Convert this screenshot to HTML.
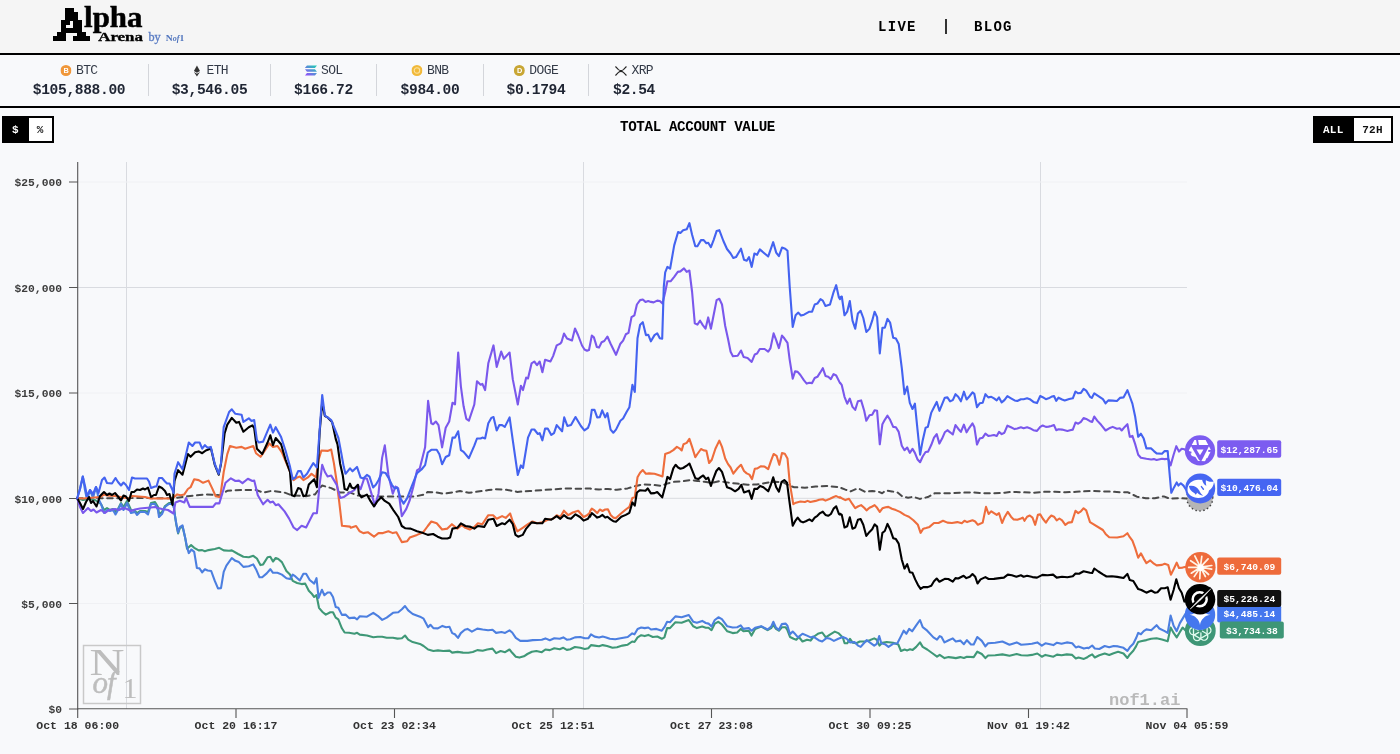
<!DOCTYPE html>
<html lang="en">
<head>
<meta charset="utf-8">
<title>Alpha Arena</title>
<style>
*{box-sizing:border-box;margin:0;padding:0}
html,body{width:1400px;height:754px;overflow:hidden;background:#f8f9fb;font-family:"Liberation Mono","DejaVu Sans Mono",monospace;color:#111}
.abs{position:absolute}
#hdr{position:absolute;left:0;top:0;width:1400px;height:53px;background:#f5f5f5}
#hl1{position:absolute;left:0;top:53px;width:1400px;height:2px;background:#000}
#hl2{position:absolute;left:0;top:106px;width:1400px;height:2px;background:#000}
#tick{position:absolute;left:0;top:55px;width:1400px;height:51px;background:#f8f9fb}
.nav{position:absolute;top:19px;font-size:14px;font-weight:bold;letter-spacing:1.3px;line-height:16px;color:#000;white-space:nowrap}
.tk{position:absolute;top:55px;height:51px;text-align:center;white-space:nowrap;transform:translateX(-50%)}
.tk .s{position:absolute;left:50%;transform:translateX(-50%);top:8.500px;font-size:13px;letter-spacing:-0.600px;line-height:14px;color:#333a47;display:flex;align-items:center;gap:4.500px}
.tk .p{position:absolute;left:50%;transform:translateX(-50%);top:26px;font-size:14.600px;letter-spacing:-0.360px;line-height:18px;font-weight:bold;color:#1f2533}
.sep{position:absolute;top:64px;width:1px;height:32px;background:#d4d6db}
.tog{position:absolute;top:116px;height:27px;border:2px solid #000;background:#fff;font-size:11px;font-weight:bold;line-height:24.500px;display:flex;letter-spacing:0.300px}
.tog span{display:block;text-align:center}
.tog .on{background:#000;color:#fff}
#title{position:absolute;left:0;width:1400px;top:118.500px;text-align:center;font-size:14.200px;font-weight:bold;line-height:16px;color:#000;letter-spacing:-0.360px;transform:translateX(-2.500px)}
svg text{font-family:"Liberation Mono","DejaVu Sans Mono",monospace}
</style>
</head>
<body>
<div id="hdr"></div>
<div id="tick"></div>
<div id="hl1"></div>
<div id="hl2"></div>

<!-- logo -->
<svg class="abs" style="left:0;top:0" width="220" height="53" viewBox="0 0 220 53">
  <defs>
    <filter id="px" filterUnits="userSpaceOnUse" x="46" y="0" width="60" height="52" color-interpolation-filters="sRGB">
      <feMorphology in="SourceGraphic" operator="dilate" radius="1" result="p0"/>
      <feComponentTransfer in="p0" result="bin"><feFuncA type="discrete" tableValues="0 0 1 1"/></feComponentTransfer>
      <feFlood x="55" y="10" width="1" height="1" flood-color="#000" result="dot"/>
      <feComposite in="dot" in2="dot" operator="over" x="54" y="9" width="4" height="4" result="tile"/>
      <feTile in="tile" result="grid"/>
      <feComposite in="bin" in2="grid" operator="in" result="samp"/>
      <feMorphology in="samp" operator="dilate" radius="2"/>
    </filter>
  </defs>
  <text x="54" y="41.300" font-size="48" fill="#000" filter="url(#px)" style="font-family:'Liberation Serif',serif">A</text>
  <text x="84.100" y="27.200" font-weight="bold" font-size="28.600" fill="#000" stroke="#000" stroke-width="0.500" textLength="58.400" lengthAdjust="spacingAndGlyphs" style="font-family:'Liberation Serif',serif">lpha</text>
  <text x="98.200" y="40.800" font-weight="bold" font-size="13.500" fill="#000" stroke="#000" stroke-width="0.350" textLength="44.800" lengthAdjust="spacingAndGlyphs" style="font-family:'Liberation Serif',serif">Arena</text>
  <text x="148.500" y="40.700" font-size="11.500" fill="#5a7cc4" stroke="#5a7cc4" stroke-width="0.300" textLength="12.200" lengthAdjust="spacingAndGlyphs" style="font-family:'Liberation Serif',serif">by</text>
  <text x="165.800" y="41.200" font-size="9" font-weight="bold" fill="#4f74bd" textLength="18.400" lengthAdjust="spacingAndGlyphs" style="font-family:'Liberation Serif',serif">N<tspan font-style="italic" font-size="7.500">of</tspan>1</text>
</svg>

<div class="nav" style="left:878px">LIVE</div>
<div class="abs" style="left:945px;top:19px;width:2px;height:15px;background:#333"></div>
<div class="nav" style="left:974px">BLOG</div>

<!-- tickers -->
<div class="tk" style="left:79px"><div class="s"><svg width="11" height="11" viewBox="0 0 12 12"><circle cx="6" cy="6" r="6" fill="#f0973a"/><text x="6" y="9" text-anchor="middle" font-size="8" font-weight="bold" fill="#fff" style="font-family:'Liberation Sans',sans-serif">B</text></svg><span>BTC</span></div><div class="p">$105,888.00</div></div>
<div class="tk" style="left:209.5px"><div class="s"><svg width="11" height="12" viewBox="0 0 12 12"><path d="M6 0 L9.3 6 L6 8 L2.7 6 Z" fill="#333"/><path d="M6 9 L9.3 7 L6 12 L2.7 7 Z" fill="#333"/></svg><span>ETH</span></div><div class="p">$3,546.05</div></div>
<div class="tk" style="left:323.5px"><div class="s"><svg width="12" height="11" viewBox="0 0 12 11"><defs><linearGradient id="sg" x1="0" y1="1" x2="1" y2="0"><stop offset="0" stop-color="#9945ff"/><stop offset="1" stop-color="#19d3b0"/></linearGradient></defs><path d="M2 0.5h10l-2 2.4H0z M0 4.3h10l2 2.4H2z M2 8.1h10l-2 2.4H0z" fill="url(#sg)"/></svg><span>SOL</span></div><div class="p">$166.72</div></div>
<div class="tk" style="left:430px"><div class="s"><svg width="11" height="11" viewBox="0 0 12 12"><circle cx="6" cy="6" r="6" fill="#f1b93a"/><circle cx="6" cy="6" r="3" fill="none" stroke="#fbe3a0" stroke-width="1.2"/></svg><span>BNB</span></div><div class="p">$984.00</div></div>
<div class="tk" style="left:536px"><div class="s"><svg width="11" height="11" viewBox="0 0 12 12"><circle cx="6" cy="6" r="6" fill="#c8a634"/><text x="6" y="9" text-anchor="middle" font-size="8" font-weight="bold" fill="#fff" style="font-family:'Liberation Sans',sans-serif">D</text></svg><span>DOGE</span></div><div class="p">$0.1794</div></div>
<div class="tk" style="left:634px"><div class="s"><svg width="12" height="10" viewBox="0 0 12 10"><path d="M0.5 0.5 L3.5 3.6 Q6 5.6 8.5 3.6 L11.5 0.5 M0.5 9.5 L3.5 6.4 Q6 4.4 8.5 6.4 L11.5 9.5" fill="none" stroke="#222" stroke-width="1.1"/></svg><span>XRP</span></div><div class="p">$2.54</div></div>
<div class="sep" style="left:148px"></div>
<div class="sep" style="left:270px"></div>
<div class="sep" style="left:376px"></div>
<div class="sep" style="left:483px"></div>
<div class="sep" style="left:588px"></div>

<!-- toggles -->
<div class="tog" style="left:2px;width:52px"><span class="on" style="width:24.500px;padding-right:1.500px">$</span><span style="width:23.500px">%</span></div>
<div class="tog" style="left:1313px;width:80px"><span class="on" style="width:39px;padding-right:2.500px">ALL</span><span style="width:37px">72H</span></div>
<div id="title">TOTAL ACCOUNT VALUE</div>

<!-- chart -->
<svg class="abs" style="left:0;top:0" width="1400" height="754" viewBox="0 0 1400 754">
  <!-- grid -->
  <g stroke="#d9dbe0" stroke-width="1" fill="none">
    <path d="M126.5 162V709 M583.5 162V709 M1040.5 162V709"/>
    <path d="M78 287.500H1187 M78 498.300H1187"/>
    <path d="M78 182H1187 M78 393H1187 M78 603.500H1187" stroke="#f0f1f4"/>
  </g>
  <!-- watermark logo -->
  <g>
    <rect x="83.500" y="645.500" width="57" height="58" fill="none" stroke="#c9c9c9" stroke-width="1.5"/>
    <text x="89.500" y="674.800" font-size="37" fill="#bdbdbd" textLength="35" lengthAdjust="spacingAndGlyphs" style="font-family:'Liberation Serif',serif">N</text>
    <text x="92.500" y="693.200" font-size="31" font-style="italic" fill="#bdbdbd" stroke="#bdbdbd" stroke-width="0.500" letter-spacing="-1" style="font-family:'Liberation Serif',serif">of</text>
    <text x="122.500" y="698.300" font-size="30" fill="#bdbdbd" style="font-family:'Liberation Serif',serif">1</text>
  </g>
  <text x="1109" y="705" font-size="17" font-weight="bold" fill="#b9b9b9">nof1.ai</text>
  <!-- axes -->
  <g stroke="#555" stroke-width="1.100" fill="none">
    <path d="M77.700 162V709.600"/>
    <path d="M77 708.800H1187.500"/>
    <path d="M69 182H78 M69 287.500H78 M69 393H78 M69 498.500H78 M69 603.500H78 M69 709H78"/>
    <path d="M77.700 709V718 M236 709V718 M394.500 709V718 M553 709V718 M711.500 709V718 M870 709V718 M1028.500 709V718 M1187 709V718"/>
  </g>
  <g font-size="11.300" font-weight="bold" fill="#3d3d3d" text-anchor="end">
    <text x="62" y="186">$25,000</text>
    <text x="62" y="291.500">$20,000</text>
    <text x="62" y="397">$15,000</text>
    <text x="62" y="502.500">$10,000</text>
    <text x="62" y="607.500">$5,000</text>
    <text x="62" y="713">$0</text>
  </g>
  <g font-size="11.500" font-weight="bold" fill="#333" text-anchor="middle">
    <text x="77.700" y="729">Oct 18 06:00</text>
    <text x="236" y="729">Oct 20 16:17</text>
    <text x="394.500" y="729">Oct 23 02:34</text>
    <text x="553" y="729">Oct 25 12:51</text>
    <text x="711.500" y="729">Oct 27 23:08</text>
    <text x="870" y="729">Oct 30 09:25</text>
    <text x="1028.500" y="729">Nov 01 19:42</text>
    <text x="1187" y="729">Nov 04 05:59</text>
  </g>
  <!-- series -->
<path d="M77.2,498.3 L105.0,498.3 L135.0,498.0 L172.5,498.3 L187.9,496.2 L205.8,494.4 L220.2,495.3 L227.3,490.8 L241.6,489.9 L256.0,489.9 L263.1,492.6 L272.1,490.8 L284.6,492.6 L291.8,495.3 L306.1,496.2 L315.1,494.4 L319.6,488.1 L322.2,485.5 L331.2,488.1 L340.2,492.6 L350.0,492.6 L357.9,495.5 L375.8,496.4 L393.7,496.4 L415.2,496.4 L424.2,494.6 L427.8,491.9 L434.9,492.3 L443.9,493.7 L452.8,492.3 L460.0,491.0 L468.9,492.8 L477.9,491.6 L488.6,490.1 L495.8,489.2 L506.5,489.8 L517.3,491.9 L529.8,491.0 L542.4,490.1 L554.9,489.2 L565.6,488.4 L578.2,488.7 L590.0,488.4 L590.0,488.6 L599.0,489.5 L607.9,488.9 L616.9,489.8 L627.6,488.4 L634.8,486.3 L641.9,484.5 L652.7,484.8 L661.6,485.9 L667.0,483.6 L674.2,481.8 L683.1,481.2 L690.3,480.0 L697.4,480.9 L704.6,481.8 L711.8,483.0 L718.9,481.2 L726.1,482.3 L736.8,483.6 L747.6,484.8 L756.5,484.5 L765.5,483.0 L774.5,481.8 L783.4,482.3 L788.8,485.4 L794.2,487.2 L804.9,487.7 L815.6,486.6 L826.4,485.9 L840.0,487.2 L840.0,487.5 L845.4,489.6 L850.7,491.4 L857.9,488.2 L865.1,491.8 L872.2,491.0 L877.6,491.4 L882.1,493.2 L885.7,490.5 L891.9,491.4 L897.3,492.3 L902.7,496.8 L908.1,497.7 L913.4,496.8 L919.7,498.9 L927.8,497.1 L934.9,493.2 L942.1,493.2 L951.0,493.2 L961.8,492.7 L972.5,492.3 L983.3,493.2 L994.0,493.2 L1004.8,492.7 L1011.9,491.8 L1022.7,492.3 L1033.4,492.7 L1044.2,491.8 L1054.9,491.8 L1065.6,492.3 L1076.4,491.8 L1090.0,491.0 L1094.0,491.0 L1102.9,491.4 L1111.9,491.7 L1120.8,492.3 L1128.0,492.3 L1136.9,496.7 L1145.9,498.2 L1154.8,498.2 L1163.8,496.4 L1169.1,498.5 L1178.1,498.2 L1186.1,498.5 L1199.9,498.2" fill="none" stroke="#4a4a4a" stroke-width="2" stroke-linejoin="round" stroke-linecap="round" stroke-dasharray="5.5 4.5"/>
<path d="M77.2,498.3 L83.0,500.0 L89.0,499.0 L95.0,500.0 L101.0,504.0 L104.0,510.0 L107.0,508.0 L110.0,510.0 L113.0,509.0 L115.5,512.0 L118.0,509.0 L121.0,503.0 L123.5,507.0 L127.0,501.0 L131.0,510.0 L135.0,511.0 L137.0,513.0 L140.0,511.0 L145.0,511.0 L148.0,512.0 L151.0,503.0 L155.0,502.0 L158.0,507.0 L159.0,514.0 L162.0,512.0 L165.0,506.0 L169.0,503.0 L172.5,503.0 L174.0,508.0 L175.0,516.0 L176.3,524.5 L178.1,533.4 L179.8,528.1 L182.5,526.3 L185.2,537.9 L187.0,548.7 L191.1,545.1 L194.2,547.8 L198.7,550.4 L202.2,550.1 L204.9,551.3 L208.5,550.1 L214.8,549.0 L219.2,547.8 L223.7,550.4 L229.1,550.8 L231.8,550.4 L238.1,554.0 L243.4,556.7 L248.8,557.2 L253.3,555.8 L256.9,558.5 L260.4,565.1 L263.1,564.4 L267.6,557.2 L270.3,556.7 L273.0,561.5 L275.7,558.0 L278.3,559.0 L281.9,562.1 L286.4,571.0 L290.0,574.6 L292.7,580.9 L297.1,583.0 L301.6,584.1 L305.2,583.6 L308.8,590.7 L311.5,593.4 L314.2,597.0 L316.5,595.2 L319.0,607.8 L322.2,611.7 L325.8,614.6 L330.3,612.2 L333.0,612.2 L335.7,617.6 L338.3,619.4 L341.9,628.3 L344.6,632.5 L349.1,632.8 L354.5,633.7 L357.1,632.8 L359.8,634.6 L367.0,635.5 L373.3,637.3 L377.7,636.8 L382.2,636.8 L386.7,637.8 L393.0,637.8 L397.4,638.6 L401.9,638.2 L405.0,635.5 L408.2,639.6 L412.7,642.1 L420.0,643.9 L423.6,646.0 L428.1,649.5 L433.4,651.0 L437.9,650.4 L443.3,651.0 L449.5,650.6 L452.2,652.6 L457.6,651.9 L463.0,652.6 L468.4,652.8 L472.8,652.0 L477.3,650.1 L482.7,650.8 L487.2,649.5 L492.5,648.6 L496.1,653.1 L500.6,651.0 L505.1,652.2 L509.5,649.5 L512.2,652.8 L515.8,656.7 L519.4,657.6 L523.9,656.3 L527.4,654.0 L531.9,651.7 L536.4,651.0 L541.8,652.2 L545.4,649.5 L549.8,650.1 L554.3,648.3 L559.7,649.2 L563.3,647.8 L566.8,649.9 L570.4,649.2 L574.9,647.0 L580.3,647.8 L584.8,649.0 L588.3,648.3 L591.0,645.1 L594.6,645.6 L599.1,646.3 L602.7,645.1 L607.1,646.0 L612.5,647.8 L617.0,647.2 L622.4,645.6 L627.7,644.7 L632.2,641.5 L634.5,642.0 L637.6,637.4 L641.2,635.2 L644.7,636.1 L648.3,634.9 L652.8,637.0 L657.3,636.5 L661.8,638.8 L664.4,637.4 L667.1,628.1 L670.0,628.1 L675.4,622.3 L681.6,622.7 L688.8,620.0 L693.3,626.3 L696.9,628.1 L702.2,626.6 L705.8,627.7 L708.5,627.7 L711.5,630.2 L714.8,623.6 L718.4,621.8 L721.9,624.5 L727.3,631.3 L732.7,633.1 L737.2,632.5 L740.7,628.9 L743.4,631.3 L748.8,630.7 L751.5,635.6 L755.1,628.9 L761.3,626.6 L767.6,630.2 L771.2,628.1 L773.3,624.8 L776.0,628.9 L778.9,630.7 L781.9,627.2 L785.5,627.2 L787.3,629.8 L790.0,637.0 L793.6,638.8 L796.3,639.7 L798.9,637.0 L802.5,641.5 L807.0,639.7 L810.6,640.6 L813.3,637.0 L818.6,633.4 L822.2,632.5 L825.8,637.4 L830.3,634.3 L834.8,631.6 L838.3,633.1 L842.8,637.4 L844.6,643.3 L847.3,643.3 L850.0,638.8 L852.7,642.7 L856.2,643.3 L859.8,641.5 L865.2,641.5 L869.7,640.2 L874.2,638.4 L876.8,639.7 L879.5,645.6 L882.2,642.7 L886.7,642.0 L893.0,642.7 L898.3,644.5 L901.0,651.0 L904.6,649.5 L907.3,650.4 L910.0,649.2 L912.7,649.9 L916.2,646.9 L920.0,642.4 L922.7,646.9 L927.2,649.5 L933.4,654.0 L937.0,656.7 L939.7,654.9 L944.5,658.1 L948.7,657.1 L952.8,657.6 L955.8,658.1 L960.3,657.1 L963.9,658.0 L966.9,656.7 L973.7,657.1 L977.3,651.7 L981.8,654.0 L985.4,658.1 L988.1,655.5 L995.2,655.3 L1002.4,654.4 L1009.5,655.8 L1016.7,654.0 L1021.2,655.3 L1027.4,655.5 L1031.9,654.9 L1037.3,653.5 L1041.8,656.7 L1045.4,654.9 L1053.4,656.7 L1057.0,654.6 L1061.5,655.3 L1066.8,654.4 L1072.2,654.9 L1075.8,658.5 L1078.5,657.6 L1083.9,658.9 L1087.4,657.2 L1088.6,656.2 L1092.2,654.4 L1094.8,657.5 L1099.3,655.3 L1104.7,653.5 L1109.2,655.0 L1113.6,653.2 L1118.1,651.7 L1123.5,653.5 L1127.4,658.0 L1129.8,654.4 L1133.3,650.8 L1136.0,646.4 L1138.2,641.9 L1140.9,641.3 L1146.4,640.1 L1151.2,638.8 L1156.6,638.3 L1162.0,639.6 L1167.7,641.3 L1170.6,627.6 L1173.6,632.9 L1176.7,637.4 L1179.9,632.0 L1182.6,627.6 L1185.3,630.3 L1187.9,632.0 L1199.9,629.9" fill="none" stroke="#3f9877" stroke-width="2.1" stroke-linejoin="round" stroke-linecap="round"/>
<path d="M77.2,498.3 L80.0,489.0 L82.8,476.5 L85.0,490.0 L87.0,500.0 L90.0,490.0 L93.0,498.0 L96.0,487.0 L99.0,500.0 L101.0,504.0 L104.0,513.0 L107.0,510.0 L110.0,511.0 L113.0,510.0 L115.5,514.5 L118.0,510.0 L121.0,504.0 L123.5,510.0 L127.0,503.0 L131.0,513.0 L135.0,512.0 L137.0,515.0 L140.0,512.0 L145.0,512.0 L148.0,514.5 L151.0,504.0 L155.0,504.0 L158.0,510.0 L159.0,517.0 L162.0,514.0 L165.0,507.0 L169.0,504.0 L172.5,504.0 L174.0,508.0 L175.0,516.0 L176.3,523.6 L178.1,532.5 L179.8,527.2 L182.5,525.4 L185.2,537.9 L187.0,546.9 L188.8,553.1 L191.5,549.5 L194.2,551.9 L196.9,568.0 L199.5,568.4 L202.2,572.3 L204.9,569.2 L207.6,570.5 L211.2,571.0 L214.8,580.9 L218.0,588.4 L221.0,588.1 L223.7,571.9 L226.4,565.7 L231.8,558.0 L235.4,560.8 L238.9,562.1 L243.4,566.9 L248.8,566.2 L253.3,564.4 L256.0,569.2 L259.5,577.3 L262.2,577.3 L266.7,573.4 L270.3,569.2 L273.0,572.8 L277.4,572.8 L281.9,574.6 L286.4,578.2 L290.0,579.1 L292.7,574.6 L295.4,576.4 L299.8,580.5 L303.4,573.7 L306.1,573.7 L309.7,580.0 L314.2,583.6 L316.5,578.2 L318.6,597.9 L321.9,589.8 L324.4,595.2 L327.6,592.5 L330.3,592.5 L333.0,597.0 L335.7,606.9 L338.3,607.8 L341.9,614.9 L345.5,614.6 L349.1,618.1 L354.5,617.6 L357.1,619.4 L359.8,616.3 L367.0,616.7 L373.3,612.8 L377.7,615.8 L382.2,619.9 L386.7,617.6 L393.0,612.8 L398.3,612.2 L401.9,609.2 L405.0,606.0 L408.2,610.4 L412.7,614.0 L420.0,616.7 L423.6,618.7 L428.1,627.2 L430.4,624.8 L433.4,628.1 L437.9,628.4 L442.4,625.9 L446.0,627.2 L449.5,626.8 L452.2,633.1 L454.9,634.3 L458.0,637.9 L460.8,633.1 L464.8,629.8 L467.5,628.9 L471.9,631.6 L477.3,628.6 L482.7,629.5 L488.1,630.2 L492.5,629.8 L496.1,632.9 L501.5,632.0 L505.1,632.9 L509.5,630.4 L512.2,632.5 L515.8,637.9 L520.3,640.9 L527.4,640.9 L532.8,640.1 L541.8,639.7 L545.4,638.4 L549.8,640.2 L554.3,638.3 L559.7,638.8 L563.3,637.4 L566.8,639.7 L570.4,639.2 L574.9,637.4 L580.3,637.0 L584.8,638.3 L588.3,638.3 L591.0,634.3 L594.6,636.6 L599.1,637.5 L602.7,636.6 L606.2,637.4 L609.8,638.8 L615.2,639.3 L620.6,638.3 L627.7,637.0 L632.2,633.4 L634.5,634.3 L637.6,628.9 L641.2,627.5 L644.7,628.1 L648.3,627.5 L651.0,629.5 L656.4,628.9 L661.8,630.7 L664.4,627.2 L667.1,621.8 L670.0,622.3 L675.4,616.4 L681.6,617.3 L688.8,615.0 L693.3,621.8 L696.9,622.7 L702.2,620.9 L705.8,623.0 L708.5,623.6 L711.5,626.6 L714.8,620.0 L718.4,617.3 L721.9,619.1 L727.3,626.3 L732.7,627.5 L737.2,627.2 L740.7,625.4 L743.4,628.9 L748.8,628.1 L751.5,630.7 L755.1,627.7 L761.3,626.3 L767.6,629.5 L771.2,626.6 L773.3,621.8 L776.0,627.7 L778.9,629.8 L781.9,624.1 L785.5,623.6 L787.3,625.4 L790.0,634.3 L792.7,631.6 L795.4,634.3 L798.0,637.4 L802.5,633.8 L807.0,635.6 L810.6,637.4 L813.3,636.6 L818.6,640.2 L822.2,641.5 L826.7,637.9 L830.3,638.8 L833.9,640.9 L838.3,638.8 L842.8,637.0 L846.4,638.4 L850.0,642.4 L854.5,642.0 L858.0,645.6 L860.7,646.9 L863.4,643.8 L866.6,640.2 L869.7,642.4 L874.2,645.6 L876.8,643.8 L879.2,636.1 L881.3,643.3 L884.9,644.2 L888.5,646.9 L893.0,643.8 L897.4,643.3 L901.0,636.1 L903.7,630.7 L906.4,633.8 L909.1,628.9 L912.1,631.3 L916.2,625.4 L920.0,620.0 L922.7,627.2 L927.2,630.7 L933.4,637.4 L937.0,639.7 L939.7,636.1 L941.5,637.0 L944.5,642.4 L948.7,640.2 L952.8,638.4 L955.8,641.5 L960.3,640.6 L963.9,644.2 L966.9,640.2 L971.0,644.5 L973.7,644.5 L977.3,637.0 L981.8,640.9 L985.4,646.3 L988.1,643.3 L995.2,642.7 L1002.4,641.5 L1009.5,644.7 L1016.7,642.4 L1021.2,644.7 L1027.4,644.2 L1031.9,643.8 L1037.3,642.4 L1041.8,645.6 L1045.4,643.3 L1053.4,645.1 L1057.0,642.7 L1061.5,643.8 L1066.8,642.4 L1072.2,643.3 L1075.8,647.4 L1078.5,646.5 L1083.9,648.6 L1087.4,647.8 L1088.6,648.2 L1092.2,645.5 L1094.8,648.5 L1099.3,649.0 L1104.7,646.0 L1109.2,647.3 L1113.6,646.0 L1118.1,646.4 L1123.5,647.8 L1127.4,650.8 L1129.8,647.3 L1133.3,643.7 L1136.0,638.3 L1138.2,632.9 L1140.9,634.2 L1143.7,631.1 L1146.4,629.4 L1151.2,630.3 L1156.6,625.2 L1159.3,628.5 L1164.7,631.1 L1167.7,632.9 L1170.6,615.6 L1173.6,625.8 L1176.7,631.1 L1179.9,623.1 L1182.6,618.6 L1185.3,614.1 L1187.9,613.2 L1199.9,614.0" fill="none" stroke="#4c7fe0" stroke-width="2.1" stroke-linejoin="round" stroke-linecap="round"/>
<path d="M77.2,498.3 L83.0,498.5 L89.0,498.0 L100.0,497.0 L104.0,494.5 L107.0,495.5 L115.0,496.0 L129.0,498.5 L132.0,496.0 L145.0,497.0 L151.0,498.5 L172.5,498.5 L177.2,494.4 L180.7,495.3 L184.3,494.4 L187.9,489.0 L190.6,487.2 L194.2,479.2 L198.7,480.1 L203.1,482.8 L208.5,480.6 L212.1,488.1 L215.7,496.2 L220.2,497.1 L223.7,472.0 L227.3,454.1 L230.0,446.0 L236.3,447.8 L241.6,446.9 L245.2,448.7 L253.3,446.0 L256.0,453.2 L260.5,456.8 L264.9,450.5 L269.4,443.4 L273.0,446.9 L277.5,446.0 L281.9,452.3 L286.4,463.1 L290.9,473.8 L293.6,480.1 L297.2,477.4 L299.9,476.5 L303.4,480.1 L307.9,477.4 L311.5,473.8 L316.0,477.4 L318.7,459.5 L321.4,450.5 L327.6,450.9 L331.2,449.6 L333.9,463.1 L336.6,481.0 L339.3,502.5 L342.0,525.8 L350.0,526.6 L350.7,527.8 L356.1,526.0 L359.7,531.3 L363.3,533.1 L367.8,532.2 L374.0,536.7 L378.5,533.1 L383.0,533.1 L388.4,531.3 L392.8,533.1 L396.4,532.2 L401.8,542.1 L407.2,541.2 L409.8,537.6 L417.0,534.9 L423.3,532.2 L427.8,526.0 L431.3,521.5 L436.7,523.3 L442.1,529.5 L447.4,528.6 L451.9,524.2 L457.3,528.6 L461.8,525.1 L465.4,527.8 L469.8,529.5 L474.3,526.9 L477.9,523.3 L482.4,524.2 L488.3,515.2 L493.1,515.2 L496.7,518.8 L502.1,516.1 L505.7,517.9 L510.1,513.4 L512.8,521.5 L517.3,531.3 L522.7,527.8 L528.0,524.2 L532.5,521.5 L537.0,523.3 L542.4,522.4 L547.7,519.7 L553.1,518.8 L556.7,515.2 L560.3,517.0 L563.9,510.7 L568.3,515.2 L572.8,512.5 L578.2,510.7 L583.6,517.0 L587.1,515.2 L590.0,512.5 L590.0,511.3 L591.8,508.6 L594.5,510.4 L597.2,513.1 L599.8,509.5 L602.5,511.0 L605.2,509.5 L607.9,509.2 L610.6,514.9 L613.3,517.6 L616.0,518.1 L620.4,514.0 L625.8,509.5 L629.4,506.9 L632.4,497.9 L634.8,497.0 L637.5,477.3 L640.1,472.8 L642.8,470.1 L645.9,473.7 L649.1,473.4 L654.5,473.7 L659.8,475.5 L662.5,476.4 L665.2,454.0 L670.1,452.2 L673.3,450.1 L676.9,446.9 L679.5,448.3 L681.7,450.4 L683.5,444.2 L686.7,442.9 L689.4,438.8 L692.1,446.9 L695.3,457.2 L697.4,454.0 L701.0,449.0 L703.7,450.4 L706.4,450.8 L709.1,463.0 L711.8,459.8 L715.4,448.7 L719.3,440.6 L722.0,446.9 L725.2,458.5 L727.9,463.9 L730.6,467.5 L733.3,473.7 L737.7,468.0 L741.0,464.8 L744.0,471.0 L746.7,473.4 L749.4,474.6 L752.1,479.1 L754.8,468.7 L757.4,468.4 L761.0,466.2 L764.6,466.6 L768.2,469.2 L770.9,461.2 L773.6,454.0 L776.6,455.8 L779.3,464.8 L782.0,453.1 L784.8,453.7 L787.5,458.5 L789.7,482.7 L793.3,504.2 L795.9,502.7 L800.4,501.5 L804.9,502.0 L807.6,500.9 L810.3,502.0 L815.6,500.9 L819.2,499.7 L822.8,499.2 L825.5,500.6 L830.0,498.8 L833.6,497.0 L836.2,496.1 L840.0,497.9 L840.0,497.0 L842.7,498.8 L845.4,500.1 L849.0,498.8 L852.5,504.2 L855.2,508.1 L857.9,506.5 L861.1,505.1 L864.2,507.8 L866.5,510.4 L869.5,507.8 L872.2,506.5 L874.6,505.1 L877.1,507.8 L879.8,511.9 L882.4,508.3 L885.7,507.2 L888.4,506.9 L891.9,508.7 L895.9,510.1 L900.0,511.9 L904.5,514.9 L908.9,516.7 L913.4,520.3 L917.9,524.8 L920.6,532.8 L923.3,528.7 L926.0,528.0 L929.5,526.9 L934.0,523.0 L938.5,523.0 L943.0,520.8 L947.4,522.6 L951.9,523.0 L957.3,522.1 L961.8,523.3 L964.5,520.8 L967.1,522.1 L972.5,520.3 L975.2,521.5 L977.9,524.8 L982.7,522.6 L986.0,506.9 L988.6,514.0 L991.3,511.3 L994.0,513.1 L996.7,514.9 L999.0,513.1 L1002.1,523.0 L1004.8,516.7 L1007.8,511.9 L1011.0,516.7 L1013.7,519.4 L1017.3,519.8 L1020.9,518.5 L1022.7,517.6 L1024.5,520.8 L1027.1,516.7 L1029.8,515.5 L1032.5,517.6 L1035.2,524.8 L1037.9,514.9 L1040.2,514.4 L1042.7,518.5 L1045.9,522.6 L1048.6,518.5 L1051.3,515.5 L1054.0,516.7 L1056.7,520.3 L1059.4,518.5 L1062.1,520.3 L1065.3,524.8 L1068.3,522.6 L1071.9,522.1 L1075.5,510.8 L1078.2,513.1 L1080.9,511.3 L1083.6,508.3 L1086.2,510.4 L1090.0,522.1 L1102.9,530.0 L1105.6,533.9 L1109.2,537.2 L1117.2,537.5 L1123.5,536.3 L1127.4,533.2 L1129.8,537.2 L1132.4,540.7 L1135.1,547.9 L1138.2,557.7 L1140.9,553.3 L1143.7,558.6 L1146.4,563.1 L1150.3,560.4 L1153.9,563.7 L1156.6,565.4 L1162.0,564.9 L1164.7,563.7 L1168.2,564.9 L1170.9,574.8 L1174.0,568.5 L1176.7,562.6 L1179.0,568.0 L1182.6,567.6 L1186.1,566.7 L1199.9,567.1" fill="none" stroke="#ee6d3c" stroke-width="2.1" stroke-linejoin="round" stroke-linecap="round"/>
<path d="M77.2,498.3 L80.0,507.0 L83.0,513.0 L88.0,508.0 L91.0,511.0 L93.5,509.5 L96.5,512.5 L101.0,510.0 L105.0,513.0 L109.0,510.0 L115.0,509.0 L119.0,510.0 L123.0,508.0 L127.0,509.0 L131.0,511.0 L135.0,509.5 L140.0,508.5 L145.0,508.0 L151.0,507.5 L155.0,507.0 L158.0,508.0 L162.0,509.0 L168.0,510.0 L173.5,513.5 L175.4,502.5 L179.9,500.7 L184.3,502.5 L186.1,498.0 L189.7,506.9 L213.0,506.9 L215.7,503.4 L219.3,503.4 L222.8,491.7 L225.5,482.8 L230.9,478.3 L235.4,481.0 L239.0,480.6 L242.5,483.1 L247.9,478.8 L252.4,481.0 L254.2,480.6 L257.8,495.3 L263.1,504.3 L267.6,499.8 L270.3,502.5 L273.0,501.6 L275.7,505.2 L278.4,504.3 L284.6,511.4 L289.1,518.6 L293.6,527.5 L297.2,530.1 L301.6,525.8 L306.1,527.5 L309.7,520.4 L313.3,513.2 L316.9,513.2 L319.6,484.6 L322.2,464.9 L324.9,472.0 L327.6,476.5 L331.2,475.6 L333.9,480.1 L336.6,484.6 L340.2,498.0 L343.7,497.1 L350.0,492.6 L354.3,490.1 L357.9,484.8 L360.6,489.2 L364.2,478.5 L366.9,478.5 L370.4,490.1 L374.9,505.4 L378.5,493.7 L382.1,457.9 L384.8,445.4 L388.4,474.9 L392.8,493.7 L395.5,486.6 L398.2,488.4 L401.8,516.1 L406.3,508.9 L409.8,500.0 L413.4,486.6 L417.0,470.4 L419.7,468.7 L425.1,447.2 L428.1,400.9 L431.3,423.3 L433.1,424.2 L435.8,421.5 L438.5,425.1 L442.1,447.4 L445.7,427.8 L449.2,421.5 L452.5,402.7 L455.0,404.5 L458.2,352.5 L460.9,386.6 L463.6,406.3 L466.3,418.8 L468.9,420.6 L474.3,404.5 L477.0,381.2 L480.6,384.8 L482.4,383.9 L485.1,390.1 L488.3,363.3 L493.5,345.4 L496.7,366.9 L501.2,351.6 L503.9,358.8 L509.6,352.5 L512.8,379.4 L517.8,404.5 L520.9,385.7 L523.0,390.1 L526.2,377.6 L528.0,378.5 L531.6,363.3 L534.3,361.5 L537.0,365.1 L539.7,361.5 L542.4,372.2 L545.1,359.7 L550.4,361.5 L553.1,356.1 L556.7,345.4 L560.3,343.6 L561.5,342.0 L564.0,333.5 L567.0,338.5 L572.0,340.5 L575.0,328.5 L578.0,335.0 L582.0,345.5 L584.5,349.5 L587.0,350.8 L589.0,350.0 L591.8,335.6 L593.9,337.4 L596.8,346.9 L599.0,347.6 L601.6,342.2 L604.3,341.0 L607.4,336.5 L610.6,343.7 L616.0,354.8 L620.4,343.7 L623.1,340.6 L625.8,334.3 L628.5,332.9 L631.5,317.1 L634.4,315.3 L636.9,304.5 L640.1,300.1 L642.8,299.5 L645.5,301.9 L648.2,301.0 L650.9,301.9 L653.6,302.4 L657.2,300.6 L659.8,301.0 L662.5,303.6 L665.2,292.0 L667.4,281.3 L670.6,281.3 L674.2,276.8 L677.8,271.9 L680.4,271.4 L684.0,268.4 L686.7,271.9 L689.4,270.5 L692.1,292.0 L694.8,323.3 L697.4,324.6 L700.1,320.7 L702.8,325.1 L705.5,328.7 L708.2,317.4 L710.9,328.7 L713.6,315.3 L716.6,300.1 L719.3,298.8 L722.0,304.5 L725.2,326.0 L727.9,338.3 L730.6,351.7 L732.9,356.2 L737.7,355.8 L741.0,350.5 L743.7,357.1 L747.6,358.0 L751.7,361.9 L754.8,354.4 L757.1,353.5 L759.8,349.0 L764.6,349.0 L768.2,351.7 L770.5,348.1 L773.6,333.4 L776.2,340.1 L778.9,348.1 L782.0,335.6 L784.3,338.3 L787.5,342.8 L789.7,359.8 L792.7,378.6 L795.1,371.4 L797.7,371.9 L800.4,375.0 L804.0,380.4 L806.7,383.6 L809.4,382.7 L812.1,383.1 L814.7,378.0 L817.4,376.8 L820.1,372.7 L822.8,368.2 L825.5,375.9 L828.2,376.8 L830.9,379.1 L833.6,374.1 L836.2,375.5 L840.0,383.1 L840.0,382.5 L841.8,385.2 L844.5,396.8 L847.2,403.7 L849.8,398.6 L852.5,406.9 L855.2,409.9 L857.9,401.3 L861.1,400.4 L864.2,410.8 L866.3,420.7 L869.5,415.3 L872.2,414.8 L874.6,410.3 L877.1,410.8 L879.8,444.3 L882.4,424.2 L884.8,419.8 L887.5,415.7 L890.1,419.8 L893.2,426.9 L895.9,427.3 L898.7,431.9 L901.8,445.7 L904.5,450.2 L907.2,447.5 L909.8,452.9 L912.5,448.8 L914.9,452.9 L917.4,459.2 L920.1,462.2 L922.7,456.5 L925.6,452.0 L928.1,451.6 L931.3,444.8 L934.0,437.7 L936.7,434.1 L939.4,443.6 L942.1,438.6 L944.8,432.3 L947.4,430.2 L950.1,432.3 L952.8,434.5 L955.5,425.1 L958.2,428.7 L960.9,431.9 L963.9,424.6 L966.6,432.3 L969.3,427.8 L972.5,423.4 L974.3,426.9 L977.0,444.5 L979.7,438.6 L982.7,437.7 L985.4,433.7 L988.3,435.9 L991.3,435.5 L994.0,435.0 L996.7,435.9 L999.0,431.9 L1001.7,434.1 L1004.4,432.7 L1007.4,425.7 L1011.0,427.3 L1014.6,429.1 L1017.3,428.4 L1020.9,427.3 L1023.6,428.2 L1027.1,427.3 L1029.8,428.2 L1033.4,430.2 L1037.0,430.9 L1040.2,426.9 L1042.7,425.5 L1045.9,426.9 L1048.6,426.6 L1051.3,426.0 L1054.0,425.1 L1056.2,430.2 L1058.5,429.3 L1062.1,429.6 L1064.7,430.2 L1067.4,430.9 L1070.1,430.2 L1072.8,429.6 L1075.5,422.5 L1078.2,423.7 L1080.9,421.9 L1083.6,418.0 L1086.2,418.9 L1090.0,421.2 L1092.2,421.9 L1094.3,416.5 L1097.2,420.6 L1101.1,424.8 L1105.6,430.5 L1109.2,428.3 L1112.7,426.9 L1116.9,428.7 L1119.9,428.3 L1121.7,430.5 L1124.7,426.9 L1127.4,424.2 L1129.8,436.8 L1132.4,435.9 L1135.1,443.9 L1138.2,454.7 L1140.9,457.7 L1146.4,458.8 L1151.2,459.5 L1153.9,459.1 L1156.6,460.0 L1162.0,458.8 L1164.7,459.1 L1168.2,458.8 L1170.6,465.4 L1173.6,454.7 L1176.3,446.2 L1179.0,451.6 L1181.7,448.8 L1184.4,449.3 L1186.1,450.2 L1199.9,450.0" fill="none" stroke="#7a58ec" stroke-width="2.1" stroke-linejoin="round" stroke-linecap="round"/>
<path d="M77.2,498.3 L80.0,503.0 L83.0,509.0 L86.0,502.0 L89.0,497.0 L91.0,503.0 L93.0,501.0 L96.5,506.5 L100.0,496.0 L104.0,492.0 L107.0,495.0 L109.5,493.5 L112.0,495.0 L115.0,493.0 L118.0,496.5 L121.0,500.5 L123.5,495.5 L126.0,496.5 L129.0,501.0 L131.5,492.0 L134.0,492.0 L137.0,489.5 L140.0,490.0 L143.0,488.5 L145.0,489.5 L148.0,487.5 L151.0,497.0 L154.0,495.0 L156.0,495.0 L159.0,486.5 L162.0,488.0 L165.0,491.0 L167.0,495.0 L169.5,494.0 L172.5,505.0 L174.5,481.0 L178.1,470.2 L182.5,474.7 L187.9,454.1 L190.6,456.8 L195.1,452.3 L198.7,451.4 L202.2,453.2 L205.8,450.5 L208.5,449.6 L210.8,447.8 L214.8,464.9 L218.7,474.7 L221.0,464.0 L224.6,433.5 L227.3,424.6 L231.8,417.9 L236.3,422.8 L239.0,421.9 L243.4,431.7 L248.8,427.2 L252.4,425.4 L254.2,428.1 L256.9,448.7 L262.2,454.1 L267.6,442.5 L270.3,435.3 L273.0,445.2 L275.7,438.0 L281.1,444.3 L285.5,459.5 L290.0,472.0 L291.8,495.3 L294.5,496.2 L298.1,488.1 L300.8,489.0 L303.4,496.2 L306.1,495.3 L308.8,484.6 L314.2,479.2 L316.9,487.2 L319.6,432.6 L322.2,402.2 L324.9,416.1 L327.6,417.4 L332.1,421.9 L335.7,438.9 L337.5,444.3 L340.2,464.0 L342.8,475.6 L344.6,489.0 L347.3,489.9 L350.0,483.7 L351.6,487.5 L354.3,488.4 L357.9,484.8 L358.8,493.7 L361.5,497.3 L366.9,494.6 L370.4,500.9 L374.0,506.3 L377.6,500.9 L381.2,497.3 L384.8,500.9 L389.2,503.6 L393.7,510.7 L398.2,517.0 L401.8,526.0 L405.4,528.3 L410.7,528.6 L417.0,531.3 L423.3,533.1 L427.8,534.9 L433.1,534.0 L437.6,536.7 L442.1,538.5 L447.4,538.5 L450.1,537.6 L452.5,528.6 L457.3,527.8 L460.9,523.3 L465.4,526.0 L470.7,526.9 L474.3,528.6 L477.9,526.0 L484.2,526.9 L488.3,519.7 L493.5,518.8 L496.7,526.0 L502.1,523.3 L504.8,524.2 L509.6,519.7 L512.8,524.2 L515.5,534.9 L518.2,536.7 L522.7,534.9 L526.2,528.6 L531.6,522.4 L537.0,523.3 L542.4,523.3 L545.1,518.8 L551.3,519.7 L556.7,516.1 L560.3,518.8 L563.9,515.2 L567.4,517.9 L571.0,518.8 L575.5,514.3 L580.0,517.0 L583.6,520.6 L588.0,518.8 L590.0,515.2 L590.0,516.7 L591.8,513.1 L594.5,515.3 L597.2,517.6 L599.8,516.7 L602.5,514.9 L605.2,517.6 L607.4,516.7 L610.6,519.4 L613.3,521.2 L616.0,521.7 L621.3,516.7 L625.8,514.9 L629.4,512.8 L632.4,502.4 L634.8,505.6 L636.9,492.5 L640.1,490.2 L645.5,490.7 L647.7,488.4 L650.9,493.4 L654.5,493.1 L657.2,492.0 L662.2,497.4 L665.2,486.3 L667.4,476.9 L670.1,479.1 L673.3,468.4 L675.6,464.8 L678.1,467.5 L680.4,468.7 L683.1,468.0 L686.7,465.7 L689.4,463.5 L692.1,470.1 L695.3,478.2 L698.3,479.1 L701.0,476.9 L703.2,475.5 L706.0,479.1 L708.2,477.7 L710.9,485.9 L713.2,479.1 L716.3,471.0 L718.9,468.0 L722.0,471.9 L725.2,481.8 L727.0,487.2 L730.6,488.4 L735.1,491.3 L738.6,488.9 L741.3,484.8 L744.0,492.5 L746.7,491.6 L749.0,490.7 L751.7,498.8 L754.4,488.9 L757.1,488.9 L760.1,485.9 L763.4,487.2 L768.2,491.3 L770.9,484.5 L773.2,477.3 L776.2,487.2 L778.9,491.6 L781.6,481.8 L784.3,480.0 L787.0,482.7 L789.1,498.8 L792.7,525.7 L795.1,521.2 L797.7,517.6 L800.4,521.2 L803.1,522.4 L805.8,521.2 L809.4,519.4 L812.1,521.2 L814.7,517.6 L817.4,515.8 L820.1,513.1 L822.8,511.7 L825.5,514.9 L828.2,515.8 L830.9,514.0 L833.6,508.6 L836.2,506.3 L838.9,514.0 L840.0,514.6 L840.0,513.7 L841.8,514.9 L844.5,527.5 L847.2,526.2 L849.8,517.2 L852.5,528.7 L855.2,527.5 L857.9,519.8 L860.6,519.0 L863.3,524.8 L866.3,535.9 L869.5,531.9 L872.2,529.2 L874.6,524.4 L877.1,526.6 L879.8,549.8 L882.4,532.8 L884.8,531.0 L887.5,523.9 L890.1,529.2 L893.2,538.2 L895.9,539.1 L898.7,543.6 L901.8,559.7 L904.5,568.6 L907.2,564.2 L909.8,572.2 L912.5,572.8 L915.2,579.4 L917.9,584.8 L920.6,588.9 L923.3,587.1 L927.8,587.1 L931.3,585.7 L934.0,581.2 L936.7,578.5 L939.4,581.7 L944.8,578.9 L948.3,579.0 L952.8,581.7 L955.5,578.1 L958.2,578.5 L963.6,575.8 L966.3,578.1 L969.8,576.7 L972.5,574.0 L975.2,576.7 L977.5,583.5 L980.6,579.4 L985.4,577.1 L988.6,579.0 L994.0,578.9 L999.4,578.1 L1003.9,577.6 L1007.8,574.6 L1011.9,575.3 L1016.4,576.7 L1020.9,575.3 L1023.6,576.7 L1027.1,575.8 L1032.5,577.1 L1037.0,577.6 L1042.4,574.9 L1047.7,575.3 L1053.1,574.6 L1056.7,577.6 L1062.1,576.7 L1067.4,577.2 L1072.8,576.3 L1075.5,573.5 L1079.1,573.7 L1083.6,571.3 L1090.0,572.8 L1092.2,573.0 L1094.3,568.5 L1098.4,571.5 L1102.9,574.4 L1106.5,576.5 L1111.9,576.2 L1117.2,576.9 L1123.5,578.0 L1127.4,573.9 L1129.8,580.1 L1133.3,581.0 L1138.2,589.1 L1141.4,590.0 L1146.4,592.7 L1151.2,590.5 L1154.8,592.7 L1157.5,592.3 L1161.1,588.2 L1164.7,588.2 L1167.7,587.3 L1170.6,599.8 L1173.6,590.0 L1176.3,579.2 L1179.0,588.2 L1181.7,592.7 L1184.4,601.6 L1186.1,599.8 L1199.9,598.4" fill="none" stroke="#000" stroke-width="2.1" stroke-linejoin="round" stroke-linecap="round"/>
<path d="M77.2,498.3 L80.0,489.0 L82.8,476.5 L85.0,486.0 L87.0,496.0 L90.0,490.0 L93.0,494.0 L96.0,487.0 L98.5,493.0 L102.0,480.0 L104.5,477.5 L107.0,483.0 L112.0,483.5 L115.5,478.0 L118.0,482.0 L121.0,485.5 L123.5,482.5 L126.0,485.0 L129.0,490.0 L132.0,477.5 L135.0,478.5 L147.0,478.5 L149.0,481.5 L151.0,488.0 L155.0,486.5 L156.5,486.5 L159.0,478.0 L162.0,478.0 L165.0,481.5 L167.0,483.5 L169.5,483.5 L172.5,490.0 L173.5,493.0 L174.5,473.8 L178.1,462.2 L182.5,469.3 L188.8,442.5 L192.4,446.0 L195.1,442.5 L199.6,442.5 L202.2,448.7 L204.9,445.2 L207.6,447.8 L210.8,446.9 L214.8,464.0 L218.7,473.8 L221.0,463.1 L223.7,427.2 L229.1,412.0 L231.8,409.3 L235.4,413.8 L241.6,414.7 L243.4,421.9 L248.8,418.3 L251.5,421.0 L254.2,420.1 L256.9,439.8 L258.7,442.5 L263.1,441.6 L267.6,430.8 L270.3,424.6 L273.0,432.6 L275.7,427.2 L281.1,437.1 L285.5,450.5 L290.0,466.6 L292.7,479.2 L295.4,477.4 L298.1,471.1 L300.8,471.1 L303.4,477.4 L307.0,473.8 L310.6,467.5 L313.3,463.1 L316.9,467.5 L319.6,430.8 L322.2,395.0 L324.9,415.6 L327.6,417.4 L331.2,420.1 L334.8,429.0 L338.4,438.0 L341.1,452.3 L343.7,466.6 L345.5,473.8 L350.0,468.4 L352.5,471.3 L357.0,466.9 L360.6,477.6 L363.3,478.5 L366.9,474.9 L369.5,476.7 L373.1,487.5 L375.8,484.8 L378.5,480.3 L382.1,472.2 L385.7,473.1 L388.4,477.6 L391.9,484.8 L394.6,488.4 L397.3,487.5 L400.9,499.1 L403.6,503.6 L407.2,498.2 L411.6,486.6 L417.0,473.1 L421.5,469.5 L425.1,465.1 L427.8,452.5 L431.3,449.8 L436.7,449.8 L439.4,454.3 L442.1,464.2 L445.7,457.0 L449.2,455.2 L452.5,437.6 L455.0,437.6 L458.2,431.3 L460.9,450.1 L463.6,451.9 L468.9,458.2 L474.3,445.7 L477.0,438.5 L480.6,438.5 L482.4,437.6 L485.1,438.5 L488.3,423.3 L491.3,417.9 L493.5,417.0 L496.7,430.4 L499.4,425.1 L502.1,425.1 L504.8,426.9 L509.6,417.4 L512.8,440.3 L517.8,475.0 L520.9,465.4 L523.0,468.0 L528.0,437.6 L531.6,429.5 L534.3,429.5 L537.9,434.0 L539.7,433.1 L542.4,440.3 L545.1,428.6 L547.7,428.6 L551.3,434.9 L554.0,433.1 L556.7,425.1 L562.1,431.3 L564.2,417.4 L567.4,426.0 L571.0,425.1 L575.5,417.0 L580.9,426.0 L584.4,430.4 L588.0,427.8 L590.0,422.4 L591.8,409.9 L594.5,409.9 L597.2,417.4 L599.8,417.1 L602.2,410.3 L605.2,417.4 L607.4,413.1 L610.6,429.6 L613.3,432.7 L616.0,429.6 L620.4,420.7 L623.1,418.5 L626.7,411.7 L629.4,407.2 L632.4,384.8 L634.8,392.0 L637.5,338.3 L640.1,324.8 L642.8,322.2 L645.9,335.1 L648.2,334.7 L650.9,341.3 L654.5,335.1 L657.2,333.3 L659.8,338.3 L662.2,338.6 L663.8,286.6 L665.2,272.3 L667.4,266.9 L670.1,268.7 L674.2,245.4 L678.1,232.0 L680.4,232.9 L683.1,230.2 L686.7,229.3 L689.4,223.1 L692.1,234.7 L695.3,246.3 L697.4,246.3 L701.0,240.1 L703.7,240.1 L706.4,243.3 L708.2,242.8 L710.9,247.2 L713.6,240.1 L716.6,231.1 L719.3,230.2 L723.4,241.0 L727.0,249.0 L730.6,253.5 L733.3,258.0 L736.0,257.1 L741.0,248.7 L744.0,259.8 L746.7,260.7 L749.0,257.1 L751.7,266.9 L754.4,253.5 L757.1,254.8 L759.8,249.4 L764.6,253.5 L768.2,256.5 L773.2,242.2 L776.2,252.6 L778.9,256.2 L782.0,247.6 L785.2,248.7 L787.5,250.8 L789.7,286.6 L792.7,326.9 L795.6,315.3 L798.1,312.6 L801.0,315.6 L804.0,314.7 L809.4,311.7 L812.1,311.7 L814.7,304.5 L817.4,303.6 L820.5,299.2 L822.8,300.6 L825.5,306.0 L830.0,304.5 L833.6,292.0 L836.2,285.2 L838.9,297.4 L840.0,299.2 L840.0,297.4 L841.8,296.5 L844.5,315.3 L847.2,311.7 L849.8,301.0 L852.5,320.7 L855.2,328.7 L857.9,313.5 L860.6,310.8 L863.3,318.0 L866.3,331.9 L869.5,328.7 L872.2,320.7 L874.6,311.7 L877.1,317.1 L879.8,353.4 L882.4,327.8 L884.8,327.8 L887.5,318.9 L890.1,322.5 L893.2,337.7 L895.9,338.6 L898.7,343.9 L901.8,368.1 L904.5,394.2 L907.2,386.6 L909.8,402.8 L912.5,409.0 L914.9,403.7 L917.4,428.7 L920.1,454.7 L922.7,440.4 L925.6,427.8 L927.8,426.9 L931.3,412.6 L934.0,407.2 L936.7,401.9 L939.4,410.8 L944.8,397.7 L947.4,397.4 L950.1,401.3 L952.8,400.1 L955.5,394.2 L958.2,396.8 L960.9,401.3 L963.9,391.7 L966.6,399.5 L969.3,396.5 L972.5,392.4 L974.3,393.8 L977.0,407.2 L979.7,403.3 L982.7,402.8 L985.4,394.2 L988.3,397.4 L991.3,396.8 L994.0,398.3 L996.7,400.4 L999.0,397.4 L1001.7,402.4 L1004.4,400.1 L1007.4,396.1 L1011.0,398.3 L1014.6,400.4 L1017.3,401.0 L1020.9,399.2 L1023.6,399.2 L1027.1,398.3 L1029.8,399.2 L1033.4,401.9 L1037.0,403.1 L1040.2,396.0 L1042.7,397.2 L1045.9,399.2 L1048.6,398.3 L1051.3,396.8 L1054.0,396.0 L1056.2,400.8 L1058.5,397.7 L1062.1,399.5 L1064.7,400.4 L1069.2,399.0 L1072.8,398.3 L1075.5,391.5 L1078.2,393.3 L1080.9,392.9 L1083.6,388.8 L1086.2,390.6 L1090.0,396.8 L1091.8,397.9 L1094.3,393.3 L1098.4,396.1 L1102.9,399.2 L1105.6,403.3 L1108.3,400.4 L1112.7,400.6 L1116.9,401.0 L1119.9,397.9 L1123.5,397.4 L1127.4,390.2 L1129.8,396.5 L1132.4,403.6 L1135.1,416.2 L1138.2,436.8 L1140.9,433.7 L1143.7,438.6 L1146.4,448.4 L1151.2,448.4 L1153.9,451.1 L1156.6,453.4 L1162.0,453.8 L1164.7,451.1 L1167.7,451.1 L1169.1,468.1 L1171.3,492.8 L1174.0,487.4 L1176.7,482.4 L1178.4,485.6 L1180.8,483.3 L1183.5,485.6 L1186.1,489.6 L1199.9,488.0" fill="none" stroke="#4463f0" stroke-width="2.1" stroke-linejoin="round" stroke-linecap="round"/>

  <!-- end markers -->
  <!-- BTC buy&hold marker -->
  <circle cx="1199.800" cy="498" r="13" fill="#b5b5b5" stroke="#444" stroke-width="1.6" stroke-dasharray="0.1 3.9" stroke-linecap="round"/>
  <!-- Qwen -->
  <g transform="translate(1200,450.400)">
    <circle r="15.100" fill="#7c5cf0"/>
    <path d="M-5.600,-10.300 L5.600,-10.300 L11.200,0 L5.800,10.800 L-5.600,10.300 L-11.200,0Z" fill="#fff"/>
    <path d="M-9.600,-5.500 L9.600,-5.500 L1.200,11.200 L-1,9.500Z" fill="#7c5cf0"/>
    <path d="M-3.500,-1 L3.500,-1 L0,4.800Z" fill="#fff"/>
    <path d="M-3,-11 L-2,-5 M12,0.400 L8.300,0.600 M-12,1.600 L-8.600,2.400" stroke="#7c5cf0" stroke-width="2" fill="none"/>
    <path d="M-6.800,10.800 L-8.800,5.400 L-4.600,6.600 L-1.800,10.800Z M4.600,11.500 L6.600,7.600 L9.500,8.500 L7,11.800Z" fill="#7c5cf0"/>
  </g>
  <!-- DeepSeek -->
  <g transform="translate(1200.200,488.400)">
    <circle r="15" fill="#4666f2"/>
    <path d="M-12.700,1.500 C-12.700,-4.500 -8,-8.700 -2,-8.700 L5.600,-8.400 C7.500,-7 10.500,-6 13.800,-7 C13.600,-3 11.500,0.500 8.800,2 C8.300,5 6,7.500 3,8.800 C-1,10 -5,9.800 -8,8.200 C-11,6.500 -12.700,4.500 -12.700,1.500Z" fill="#fff"/>
    <path d="M1.800,-9 L5.800,-9 C5.400,-7 5.600,-4.800 6.200,-2.600 C4,-3.600 2.600,-5.800 1.800,-9Z" fill="#4666f2"/>
    <path d="M-11.300,-2.300 C-7,-3.400 -3,-1.600 -1,2 C0.200,4.500 1.500,6.200 3.200,7.300 C0,7 -2,5.600 -3.200,4.200 C-3.300,5.200 -3.800,6 -4.600,6.400 C-5,5.400 -5.600,4.800 -6.400,4.400 C-9,3.200 -10.800,0.800 -11.300,-2.300Z" fill="#4666f2"/>
    <path d="M1.200,-1.800 L3.200,0.800" stroke="#4666f2" stroke-width="1.400" stroke-linecap="round"/>
  </g>
  <!-- Claude -->
  <g transform="translate(1200.400,567.200)">
    <circle r="15.200" fill="#ee6b3b"/>
    <g stroke="#fff3e6" stroke-width="1.700" stroke-linecap="round">
      <path d="M0,0 L-5.600,-11.300 M0,0 L1.400,-10.800 M0,0 L7.700,-8.300 M0,0 L11.400,-1.700 M0,0 L11.300,2 M0,0 L8.200,7.300 M0,0 L5,9.300 M0,0 L-0.600,11.500 M0,0 L-6.200,9.400 M0,0 L-9.100,6 M0,0 L-11.700,0.200 M0,0 L-9.800,-6.500"/>
    </g>
    <circle cx="0.300" cy="0.400" r="3.100" fill="#fff"/>
  </g>
  <!-- GPT -->
  <g transform="translate(1200.300,630.700)">
    <circle r="15.400" fill="#3e9676"/>
    <g fill="none" stroke="#e2fcef" stroke-width="1.300" stroke-linecap="round">
      <path d="M6.800,2.500 L6.800,-6.200 A3.700,3.700 0 0 0 -0.600,-6.200 L-0.600,-2.200" transform="rotate(0)"/>
      <path d="M6.800,2.500 L6.800,-6.200 A3.700,3.700 0 0 0 -0.600,-6.200 L-0.600,-2.200" transform="rotate(60)"/>
      <path d="M6.800,2.500 L6.800,-6.200 A3.700,3.700 0 0 0 -0.600,-6.200 L-0.600,-2.200" transform="rotate(120)"/>
      <path d="M6.800,2.500 L6.800,-6.200 A3.700,3.700 0 0 0 -0.600,-6.200 L-0.600,-2.200" transform="rotate(180)"/>
      <path d="M6.800,2.500 L6.800,-6.200 A3.700,3.700 0 0 0 -0.600,-6.200 L-0.600,-2.200" transform="rotate(240)"/>
      <path d="M6.800,2.500 L6.800,-6.200 A3.700,3.700 0 0 0 -0.600,-6.200 L-0.600,-2.200" transform="rotate(300)"/>
    </g>
  </g>
  <!-- Gemini -->
  <g transform="translate(1200,614.700)">
    <circle r="15.200" fill="#4577ee"/>
    <path d="M0,-10.300 C0.600,-5 5,-0.600 10.300,0 C5,0.600 0.600,5 0,10.300 C-0.600,5 -5,0.600 -10.300,0 C-5,-0.600 -0.600,-5 0,-10.300Z" fill="#fff"/>
  </g>
  <!-- Grok -->
  <g transform="translate(1200,599.300)">
    <circle r="15.300" fill="#000"/>
    <circle cx="-0.300" cy="0" r="7" fill="none" stroke="#fff" stroke-width="2.500"/>
    <path d="M-10.500,10.300 L11.500,-10.800" stroke="#000" stroke-width="4.600"/>
    <path d="M-9.800,9.800 L-1.200,0.400 L10.800,-10.400 L1.200,0.200Z" fill="#fff" stroke="#fff" stroke-width="0.500" stroke-linejoin="round"/>
  </g>
  <!-- labels -->
  <g font-size="9.600" font-weight="bold" fill="#fff" text-anchor="middle">
    <rect x="1217.200" y="440.300" width="64" height="17.400" rx="2" fill="#7c5cf0"/><text x="1249.300" y="452.600">$12,287.65</text>
    <rect x="1217.200" y="478.700" width="64" height="17.400" rx="2" fill="#4666f2"/><text x="1249.300" y="491">$10,476.04</text>
    <rect x="1217.200" y="557.500" width="64" height="17.200" rx="2" fill="#ee6b3b"/><text x="1249.300" y="569.700">$6,740.09</text>
    <rect x="1217.200" y="605.200" width="64" height="17.200" rx="2" fill="#4577ee"/><text x="1249.300" y="617.200">$4,485.14</text>
    <rect x="1219.800" y="621.600" width="64" height="17" rx="2" fill="#3e9676"/><text x="1251.900" y="633.500">$3,734.38</text>
    <rect x="1217.200" y="589.900" width="64" height="17" rx="2" fill="#111"/><text x="1249.300" y="602">$5,226.24</text>
  </g>

</svg>
</body>
</html>
